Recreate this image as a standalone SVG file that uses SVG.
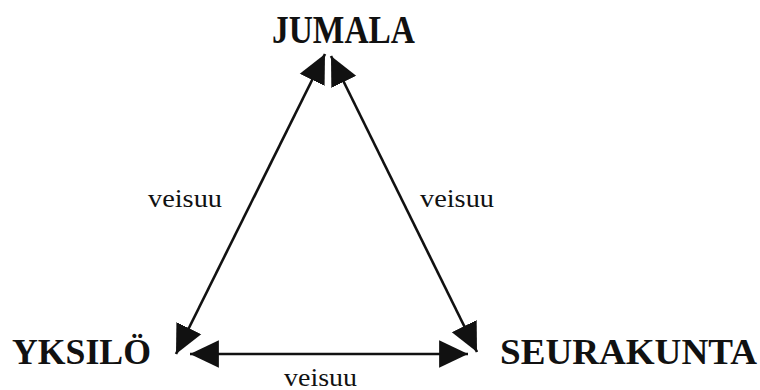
<svg xmlns="http://www.w3.org/2000/svg" width="760" height="390" viewBox="0 0 760 390">
<style>
.node{font-family:"Liberation Serif","Times New Roman",serif;font-weight:bold;fill:#111}
.lbl{font-family:"Liberation Serif","Times New Roman",serif;font-size:25px;fill:#111}
.conn{stroke:#111;stroke-width:2.6;fill:none;marker-start:url(#ah);marker-end:url(#ah)}
</style>
<defs>
<marker id="ah" markerUnits="userSpaceOnUse" markerWidth="30" markerHeight="30" viewBox="0 0 26 26" refX="25" refY="13" orient="auto-start-reverse">
<path d="M0,1 L25,13 L0,25 Z" fill="#111"/>
</marker>
</defs>
<rect width="760" height="390" fill="#fff"/>
<g id="connectors">
<line class="conn" x1="176" y1="354" x2="325" y2="54"/>
<line class="conn" x1="331" y1="56" x2="477" y2="352"/>
<line class="conn" x1="190" y1="354" x2="468" y2="354"/>
<text class="lbl" x="148" y="207" textLength="74" lengthAdjust="spacingAndGlyphs">veisuu</text>
<text class="lbl" x="420" y="207" textLength="74" lengthAdjust="spacingAndGlyphs">veisuu</text>
<text class="lbl" x="284" y="386" textLength="73" lengthAdjust="spacingAndGlyphs">veisuu</text>
</g>
<g id="jumala"><text class="node" x="272" y="43" font-size="40" textLength="143" lengthAdjust="spacingAndGlyphs">JUMALA</text></g>
<g id="yksilo"><text class="node" x="12" y="364" font-size="35" textLength="139" lengthAdjust="spacingAndGlyphs">YKSILÖ</text></g>
<g id="seurakunta"><text class="node" x="500" y="364" font-size="35" textLength="257" lengthAdjust="spacingAndGlyphs">SEURAKUNTA</text></g>
</svg>
